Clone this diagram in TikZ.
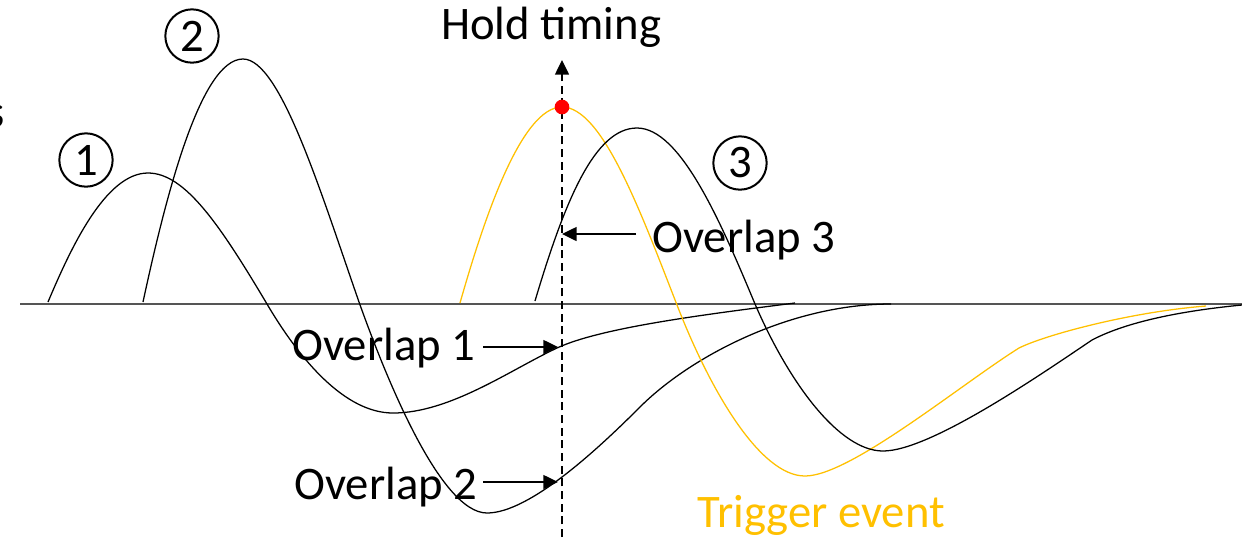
\documentclass[tikz,border=0pt]{standalone}
\usepackage{fontspec}
\setmainfont{Carlito}
\usetikzlibrary{arrows.meta}
\definecolor{gold}{HTML}{FFC000}
\definecolor{axisgray}{HTML}{555555}
\begin{document}
\begin{tikzpicture}[x=0.75pt,y=-0.75pt,
  curve/.style={line width=0.95pt, line join=round},
  lbl/.style={inner sep=0pt, font=\fontsize{35}{42}\selectfont, anchor=base west},
  num/.style={circle, draw, line width=1.5pt, minimum size=40pt, inner sep=0pt, font=\fontsize{35}{40}\selectfont},
  ptr/.style={line width=1.1pt, -{Triangle[length=11pt,width=10.5pt]}},
]
\useasboundingbox (0,0) rectangle (1242,537);

% cut-off glyph at the left edge
\node[lbl, anchor=base east] (edge) at (5,127) {s};

% axis
\coordinate (axL) at (20,304);
\coordinate (axR) at (1242,304);
\draw[axisgray, line width=1.5pt] (axL) -- (axR);

% curve 1
\draw[curve] (48,302) .. controls (70,250) and (105,173) .. (148,173)
  .. controls (185,173) and (220,225) .. (267,304)
  .. controls (300,360) and (345,413) .. (393,413)
  .. controls (450,413) and (510,370) .. (557,348)
  .. controls (600,328) and (700,315) .. (795,303);

% curve 2
\draw[curve] (143,302) .. controls (165,200) and (200,59) .. (243,59)
  .. controls (280,59) and (320,190) .. (359,302)
  .. controls (385,375) and (440,513) .. (487,513)
  .. controls (530,513) and (600,447) .. (640,407)
  .. controls (690,357) and (790,304) .. (891,304);

% trigger curve
\draw[curve, gold] (460,303) .. controls (485,215) and (522,107) .. (562,107)
  .. controls (602,107) and (640,210) .. (677,305)
  .. controls (710,390) and (760,476) .. (805,476)
  .. controls (850,476) and (960,385) .. (1019,348)
  .. controls (1045,335) and (1130,312) .. (1206,306);

% curve 3
\draw[curve] (535,301) .. controls (565,200) and (595,128) .. (637,128)
  .. controls (680,128) and (720,220) .. (755,304)
  .. controls (790,385) and (840,451) .. (883,451)
  .. controls (930,451) and (1040,375) .. (1092,340)
  .. controls (1130,320) and (1190,310) .. (1242,305);

% hold timing line
\coordinate (hbot) at (562,537);
\coordinate (htop) at (562,60);
\draw[line width=1.1pt, dash pattern=on 6pt off 3.5pt, -{Triangle[length=11pt,width=10.5pt]}] (hbot) -- (htop);
\node[circle, fill=red, inner sep=0pt, minimum size=11pt] (peak) at (562,107) {};
\node[lbl] (hold) at (441,39) {Hold timing};

% circled numbers
\node[num] (n1) at (86,160) {1};
\node[num] (n2) at (192,36) {2};
\node[num] (n3) at (740,163) {3};

% overlap labels
\node[lbl] (ov1) at (292,360) {Overlap 1};
\node[lbl] (ov2) at (294,499) {Overlap 2};
\node[lbl] (ov3) at (652,252) {Overlap 3};
\node[lbl, text=gold] (trig) at (697,527) {Trigger event};

\coordinate (a1s) at (483,347);
\coordinate (a1e) at (558,347);
\coordinate (a2s) at (483,482);
\coordinate (a2e) at (558,482);
\coordinate (a3s) at (636,234);
\coordinate (a3e) at (562,234);
\draw[ptr] (a1s) -- (a1e);
\draw[ptr] (a2s) -- (a2e);
\draw[ptr] (a3s) -- (a3e);
\end{tikzpicture}
\end{document}
